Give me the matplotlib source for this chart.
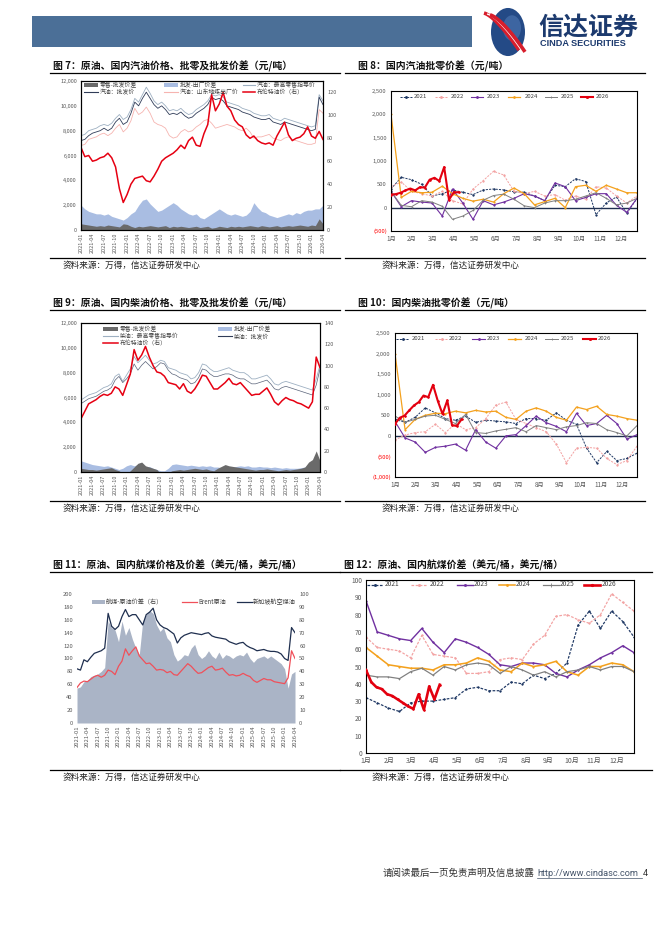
import numpy as np
import matplotlib
matplotlib.use('Agg')
import matplotlib.pyplot as plt
import matplotlib.patches as mpatches
from matplotlib.lines import Line2D

plt.rcParams['font.family'] = ['Noto Sans CJK SC', 'DejaVu Sans']
plt.rcParams['axes.unicode_minus'] = False

# ---------------- data ----------------
date_labels = ['2021-01', '2021-04', '2021-07', '2021-10', '2022-01', '2022-04', '2022-07', '2022-10',
               '2023-01', '2023-04', '2023-07', '2023-10', '2024-01', '2024-04', '2024-07', '2024-10',
               '2025-01', '2025-04', '2025-07', '2025-10', '2026-01', '2026-04']
month_labels = ['1月', '2月', '3月', '4月', '5月', '6月', '7月', '8月', '9月', '10月', '11月', '12月']
years = ['2021', '2022', '2023', '2024', '2025', '2026']

# fig 7: gasoline (monthly, 2021-01 .. 2026-04)
retail7 = [7600, 7700, 8000, 8100, 8200, 8400, 8500, 8400, 8600, 9000, 9300, 8900,
           9100, 9700, 10600, 10300, 10900, 11500, 11000, 10400, 10100, 10300, 10000, 9600,
           9700, 9600, 9800, 9500, 9300, 9400, 9700, 9900, 10100, 10400, 10900, 10800,
           10900, 10700, 10300, 10200, 10100, 10000, 9800, 9700, 9600, 9400, 9300, 9200,
           9200, 9300, 9000, 8900, 8800, 9000, 8900, 8800, 8700, 8600, 8500, 8400,
           8300, 8400, 10900, 10400]
whole7 = [7200, 7300, 7600, 7800, 7900, 8000, 8200, 8000, 8200, 8700, 9000, 8500,
          8700, 9400, 10300, 10000, 10600, 11100, 10600, 10100, 9800, 10000, 9700, 9300,
          9400, 9300, 9500, 9200, 9000, 9100, 9400, 9600, 9800, 10100, 10700, 10500,
          10600, 10400, 10000, 9900, 9800, 9700, 9500, 9400, 9300, 9100, 9000, 8900,
          8900, 9000, 8700, 8600, 8500, 8700, 8600, 8500, 8400, 8300, 8200, 8100,
          8000, 8100, 10700, 10100]
sd7 = [6800, 6900, 7300, 7400, 7500, 7700, 7800, 7600, 7800, 8200, 8500, 7900,
       8200, 8800, 9800, 9300, 9500, 9900, 9400, 8700, 8500, 8400, 8200, 7600,
       7400, 7500, 7900, 8100, 7900, 8000, 8300, 8500, 8800, 8900, 8600, 8200,
       8300, 8400, 8500, 8400, 8300, 8100, 8000, 8200, 7900, 7400, 7500, 7500,
       7600, 7700, 7400, 7300, 7200, 7400, 7500, 7300, 7200, 7100, 7000, 6900,
       6900, 7000, 9700, 9400]
bw7 = [2000, 1700, 1500, 1400, 1300, 1300, 1200, 1300, 1100, 1000, 900, 800,
       1000, 1300, 1500, 2000, 2400, 2500, 2100, 1800, 1500, 1600, 1800, 2000,
       2200, 2000, 1700, 1500, 1300, 1200, 1300, 1000, 900, 1100, 1300, 1500,
       1700, 1500, 1300, 1200, 1300, 1200, 1100, 1200, 1500, 2200, 1800, 1500,
       1400, 1200, 1100, 1000, 1100, 1200, 1300, 1200, 1400, 1300, 1500, 1600,
       1600, 1700, 1700, 2000]
rw7 = [500, 450, 400, 350, 300, 350, 300, 400, 350, 300, 250, 500,
       450, 300, 200, 300, 250, 300, 350, 300, 250, 300, 350, 200,
       300, 250, 300, 250, 200, 250, 300, 200, 250, 300, 150, 200,
       300, 250, 200, 300, 250, 300, 250, 300, 350, 300, 250, 350,
       300, 250, 300, 350, 250, 300, 350, 300, 350, 400, 350, 300,
       400, 350, 900, 500]
brent7 = [72, 64, 65, 60, 61, 63, 64, 67, 63, 55, 36, 24,
          31, 40, 45, 46, 47, 43, 42, 47, 53, 60, 63, 65,
          67, 70, 74, 71, 78, 81, 74, 73, 84, 92, 118, 104,
          110, 120, 108, 104, 96, 92, 90, 83, 80, 82, 78, 76,
          75, 76, 74, 82, 88, 94, 83, 78, 80, 81, 84, 90,
          82, 80, 86, 79]

# fig 9: diesel
retail9 = [5800, 6000, 6200, 6300, 6400, 6600, 6800, 6900, 7100, 7700, 7900, 7300,
           7800, 8300, 9300, 8800, 9100, 9400, 9000, 8700, 8800, 9000, 8900, 8400,
           8300, 8200, 8000, 7900, 7800, 7500, 7600, 8000, 8700, 8600, 8300, 8100,
           8100, 8200, 8300, 8400, 8200, 8100, 8000, 8000, 7800, 7500, 7500, 7600,
           7700, 7800, 7500, 7100, 7000, 7200, 7300, 7200, 7100, 7000, 6900, 6800,
           6700, 6600, 7500, 8600]
whole9 = [5500, 5700, 5900, 6000, 6100, 6300, 6500, 6600, 6800, 7400, 7700, 7200,
          7500, 7900, 8700, 8200, 8600, 8900, 8600, 8300, 8500, 8800, 8700, 8200,
          7900, 7800, 7600, 7500, 7400, 7100, 7200, 7600, 8300, 8200, 7900, 7700,
          7700, 7800, 7900, 7900, 7800, 7600, 7500, 7500, 7300, 7100, 7100, 7200,
          7300, 7400, 7100, 6700, 6600, 6800, 6900, 6800, 6700, 6600, 6500, 6400,
          6300, 6200, 7000, 8300]
bw9 = [900, 800, 700, 600, 550, 500, 450, 500, 400, 300, 200, 300,
       500, 600, 500, 600, 500, 400, 450, 300, 200, 100, 100, 300,
       600, 650, 600, 550, 500, 550, 500, 450, 500, 450, 500, 400,
       400, 350, 300, 300, 400, 450, 500, 450, 500, 400, 400, 450,
       400, 400, 350, 400, 350, 300, 350, 300, 300, 300, 350, 400,
       600, 750, 900, 800]
rw9 = [300, 250, 200, 200, 150, 200, 250, 300, 350, 200, 100, -100,
       -150, 100, 400, 700, 800, 500, 400, 300, 200, -150, -100, -50,
       100, 150, 200, 150, 200, 250, 300, 250, 200, 250, 150, 100,
       300, 450, 600, 500, 450, 400, 350, 300, 250, 200, 150, 200,
       200, 250, 200, 150, 100, 150, 200, 150, 200, 250, 300, 400,
       800, 1000, 1700, 900]
brent9 = [50, 57, 64, 66, 68, 71, 73, 72, 74, 80, 78, 72,
          82, 92, 115, 105, 110, 118, 108, 100, 94, 93, 90, 84,
          83, 82, 78, 83, 76, 74, 78, 84, 91, 90, 84, 78,
          78, 81, 84, 88, 83, 82, 84, 80, 76, 72, 73, 73,
          76, 79, 73, 66, 63, 67, 70, 68, 67, 65, 64, 62,
          60, 66, 108, 98]

# fig 11: jet fuel
jet11 = [84, 82, 98, 95, 102, 108, 110, 112, 116, 170, 150, 145,
         150, 165, 176, 165, 168, 168, 160, 152, 168, 172, 178, 160,
         152, 148, 146, 142, 138, 124, 132, 136, 138, 140, 139, 138,
         137, 139, 140, 135, 133, 132, 131, 130, 126, 124, 122, 124,
         125, 120, 117, 115, 112, 113, 114, 112, 111, 111, 110, 107,
         100, 97, 148, 140]
brent11 = [55, 62, 65, 64, 68, 72, 74, 71, 74, 82, 80, 75,
           88, 96, 115, 105, 112, 118, 104, 98, 92, 93, 88, 82,
           83, 82, 78, 80, 75, 74, 80, 86, 92, 88, 82, 77,
           78, 82, 86, 88, 82, 83, 85, 79, 74, 75, 73, 74,
           77, 74, 72, 66, 63, 66, 69, 67, 67, 64, 63, 62,
           61, 70, 112, 100]
spread11 = [27, 28, 32, 33, 36, 37, 38, 40, 43, 79, 74, 72,
            63, 79, 68, 74, 65, 58, 53, 79, 84, 87, 85, 76,
            71, 74, 66, 63, 53, 48, 50, 53, 52, 58, 61, 53,
            50, 52, 56, 52, 50, 55, 50, 53, 52, 50, 52, 53,
            52, 55, 50, 47, 50, 51, 52, 50, 52, 50, 48, 46,
            42, 27, 38, 40]

# fig 8: gasoline wholesale-retail spread by year (half-month steps), 2026 weekly
gas_year = {
    '2021': [400, 650, 600, 500, 250, 300, 380, 330, 280, 380, 400, 380, 340, 330, 250, 150, 480, 450, 620, 560, -150, 100, 230, -120, 200],
    '2022': [450, 550, 350, 300, 250, 350, 150, 80, 400, 580, 780, 700, 350, 300, 350, 250, 280, 160, 250, 180, 450, 420, 250, 100, 250],
    '2023': [350, 20, 150, 120, 100, -180, 400, 100, -250, 150, 60, 120, 200, 300, 250, 150, 530, 450, 150, 220, 300, 300, 50, -100, 200],
    '2024': [2000, 220, 350, 320, 330, 460, 300, 200, 140, 180, 120, 300, 420, 300, 60, 130, 200, 0, 450, 480, 350, 480, 400, 320, 320],
    '2025': [350, 50, 20, 150, 120, 30, -250, -180, -60, 160, 260, 290, 180, 40, 0, 100, 150, 150, 180, 250, 320, 200, 60, 100, 200],
    '2026': [280, 290, 320, 370, 410, 370, 440, 430, 600, 640, 570, 870, 170, 330, 330],
}
# fig 10: diesel
dsl_year = {
    '2021': [400, 330, 450, 680, 560, 420, 380, 480, 330, 380, 360, 340, 300, 420, 420, 380, 560, 380, 280, -300, -650, -380, -600, -550, -420],
    '2022': [-100, 20, 80, 100, 280, 80, 300, 150, 200, 420, 750, 820, 400, 300, 200, 100, -200, -650, -300, -280, -300, -550, -700, -600, -250],
    '2023': [350, -50, -150, -400, -280, -250, -200, -350, 150, -150, -300, 0, 30, 250, 480, 320, 230, 100, 550, 250, 300, 500, 300, -80, 30],
    '2024': [2000, 150, 400, 500, 550, 540, 600, 560, 620, 580, 600, 450, 400, 600, 680, 600, 450, 380, 700, 640, 720, 520, 480, 420, 380],
    '2025': [480, 330, 400, 480, 500, 400, 300, 520, 80, 60, 120, 160, 200, 100, 250, 200, 150, 220, 250, 320, 300, 150, 80, 0, 250],
    '2026': [290, 440, 490, 620, 740, 820, 980, 940, 1240, 850, 530, 860, 260, 240, 400],
}
# fig 12: jet fuel spread
jet_year = {
    '2021': [32, 29, 26, 24, 29, 30, 30, 31, 32, 37, 38, 36, 36, 41, 40, 45, 43, 46, 52, 74, 82, 72, 82, 76, 67],
    '2022': [67, 61, 60, 59, 55, 68, 57, 56, 55, 46, 46, 47, 54, 55, 54, 63, 68, 79, 80, 77, 75, 80, 92, 87, 82],
    '2023': [88, 70, 68, 66, 65, 72, 64, 58, 66, 64, 61, 57, 51, 50, 52, 52, 51, 46, 44, 48, 51, 55, 58, 62, 58],
    '2024': [61, 56, 51, 50, 49, 49, 48, 51, 51, 52, 55, 53, 48, 47, 52, 50, 51, 53, 47, 45, 50, 50, 52, 51, 47],
    '2025': [45, 44, 44, 43, 47, 49, 45, 50, 48, 51, 52, 51, 46, 50, 48, 45, 47, 44, 47, 48, 50, 48, 50, 50, 47],
    '2026': [48, 41, 38, 37, 34, 33, 31, 29, 27, 25.5, 34, 25, 38.5, 31, 39.5],
}

# ---------------- layout helpers ----------------
W, H = 662, 936
fig = plt.figure(figsize=(W / 100, H / 100), dpi=100)
GRAY = '#595959'


def box(x0, y0, x1, y1):
    return fig.add_axes([x0 / W, 1 - y1 / H, (x1 - x0) / W, (y1 - y0) / H])


def ftext(x, y, s, **kw):
    kw.setdefault('va', 'center')
    return fig.text(x / W, 1 - y / H, s, **kw)


def hline(x0, x1, y, lw=0.8, color='black'):
    fig.add_artist(Line2D([x0 / W, x1 / W], [1 - y / H, 1 - y / H], lw=lw, color=color))


def leg_line(x0, x1, y, label, tx, fs, color, lw=0.8, ls='-', marker=None, ms=1.5):
    fig.add_artist(Line2D([x0 / W, x1 / W], [1 - y / H] * 2, color=color, lw=lw, ls=ls))
    if marker:
        fig.add_artist(Line2D([(x0 + x1) / 2 / W], [1 - y / H], color=color, marker=marker,
                              ms=ms, mew=0.6, ls='none'))
    ftext(tx, y, label, fontsize=fs, color='#404040')


def leg_patch(x0, x1, y, label, tx, fs, color):
    fig.add_artist(mpatches.Rectangle((x0 / W, 1 - (y + 2.2) / H), (x1 - x0) / W, 4.4 / H,
                                      color=color, lw=0))
    ftext(tx, y, label, fontsize=fs, color='#404040')


def title(x, y, s, x0, x1):
    ftext(x, y, s, fontsize=7.1, fontweight='bold', color='#111111')
    hline(x0, x1, y + 7, lw=0.9)


def source(x, y, x0, x1):
    hline(x0, x1, y - 7, lw=0.9)
    ftext(x, y, '资料来源：万得，信达证券研发中心', fontsize=6.2, color='#222222')


def frame(ax, on=True):
    for s in ax.spines.values():
        s.set_visible(on)
        s.set_color('black')
        s.set_linewidth(0.8)


def fmt_num(v):
    return f'({abs(v):,.0f})' if v < 0 else f'{v:,.0f}'


def ts_axis(ax, fs=4):
    ax.set_xlim(0, 63)
    ax.set_xticks(np.arange(0, 64, 3))
    ax.set_xticklabels(date_labels, rotation=90, fontsize=fs, color=GRAY)
    ax.tick_params(axis='x', length=0, pad=2)


def year_chart(ax, data, ylim, step, fs, lw_scale=1.0):
    styles = {
        '2021': dict(color='#1f3864', ls=(0, (2.2, 1.2)), lw=0.7, marker='o', ms=1.1),
        '2022': dict(color='#f3a3a3', ls=(0, (2.2, 1.2)), lw=0.7, marker='o', ms=1.1),
        '2023': dict(color='#7030a0', ls='-', lw=0.8, marker='o', ms=1.1),
        '2024': dict(color='#f4a11d', ls='-', lw=0.9, marker='o', ms=1.0),
        '2025': dict(color='#7f7f7f', ls='-', lw=0.7, marker='+', ms=1.8),
        '2026': dict(color='#e3000f', ls='-', lw=1.5, marker='o', ms=1.3),
    }
    for y in years:
        vals = data[y]
        if y == '2026':
            xs = np.arange(len(vals)) * 12 / 52
        else:
            xs = np.linspace(0, 11.75, len(vals))
        st = dict(styles[y])
        st['lw'] = st['lw'] * lw_scale
        ax.plot(xs, vals, mew=0.5, zorder=3 if y == '2026' else 2, **st)
    ax.set_xlim(0, 11.75)
    ax.set_ylim(*ylim)
    ax.set_xticks(range(12))
    ax.set_xticklabels(month_labels, fontsize=fs, color=GRAY)
    ticks = np.arange(ylim[0], ylim[1] + 1, step)
    ax.set_yticks(ticks)
    labs = ax.set_yticklabels([fmt_num(t) for t in ticks], fontsize=fs - 0.3)
    for t, l in zip(ticks, labs):
        l.set_color('#ff0000' if t < 0 else GRAY)
    ax.tick_params(length=0, pad=3)
    frame(ax)
    return styles


# ---------------- header ----------------
fig.add_artist(mpatches.Rectangle((32 / W, 1 - 47 / H), (472 - 32) / W, 31 / H, color='#4b6f97', lw=0))
fig.add_artist(mpatches.Circle((508 / W, 1 - 32 / H), 17 / W, color='#244a86', lw=0))
fig.add_artist(mpatches.Circle((512 / W, 1 - 28 / H), 9 / W, color='#4f78b4', lw=0, alpha=0.6))
t = np.linspace(0, 1, 30)
for off, c, lw in [(-3, '#d81e2c', 2.6), (0, 'white', 1.0), (3, '#d81e2c', 2.6)]:
    xs = 487 + off + 35 * t
    ys = 14 + 37 * t ** 1.4 + off * 0.3
    fig.add_artist(Line2D(xs / W, 1 - ys / H, color=c, lw=lw, solid_capstyle='butt'))
ftext(538, 28, '信达证券', fontsize=18, fontweight='bold', color='#1c3a6e')
ftext(540, 44, 'CINDA SECURITIES', fontsize=6.6, fontweight='bold', color='#1c3a6e',
      family=['Liberation Sans', 'DejaVu Sans'])

# ---------------- figure 7 ----------------
title(53, 66, '图 7：原油、国内汽油价格、批零及批发价差（元/吨）', 50, 340)
x = np.arange(64)
ax7 = box(81, 81, 323, 230)
ax7.fill_between(x, 0, bw7, color='#a9bde2', lw=0)
ax7.fill_between(x, 0, rw7, color='#6a6a6a', lw=0)
ax7.plot(x, retail7, color='#9eb0c2', lw=0.6)
ax7.plot(x, whole7, color='#303c58', lw=0.6)
ax7.plot(x, sd7, color='#f6b4b0', lw=0.6)
ax7.set_ylim(0, 12000)
ax7.set_yticks(range(0, 12001, 2000))
ax7.set_yticklabels([fmt_num(v) for v in range(0, 12001, 2000)], fontsize=4, color=GRAY)
ax7.tick_params(axis='y', length=0, pad=3)
ts_axis(ax7)
ax7r = ax7.twinx()
ax7r.plot(x, brent7, color='#e60012', lw=1.1)
ax7r.set_ylim(0, 130)
ax7r.set_yticks(range(0, 121, 20))
ax7r.tick_params(axis='y', labelsize=4, colors=GRAY, length=0, pad=3)
frame(ax7)
frame(ax7r)
leg_patch(84, 98, 85, '零售-批发价差', 100, 4.2, '#6a6a6a')
leg_patch(164, 178, 85, '批发-出厂价差', 180, 4.2, '#a9bde2')
leg_line(243, 255, 85, '汽油：最高零售指导价', 257, 4.2, '#9eb0c2')
leg_line(84, 98, 92, '汽油：批发价', 100, 4.2, '#303c58')
leg_line(164, 178, 92, '汽油：山东地炼出厂价', 180, 4.2, '#f6b4b0')
leg_line(243, 255, 92, '布伦特油价（右）', 257, 4.2, '#e60012', lw=1.1)
source(63, 265, 50, 340)

# ---------------- figure 8 ----------------
title(358, 66, '图 8：国内汽油批零价差（元/吨）', 345, 645)
ax8 = box(391, 91, 637, 231)
ax8.axhline(0, color='#1f2f4f', lw=1.0, zorder=1)
st = year_chart(ax8, gas_year, (-500, 2500), 500, 4.5)
for (hx, tx), y in zip([(400, 414), (435, 451), (471, 487), (508, 525), (545, 561), (581, 596)], years):
    s = st[y]
    leg_line(hx, hx + 12, 97, y, tx, 4.3, s['color'], lw=s['lw'], ls=s['ls'], marker=s['marker'], ms=s['ms'] + 0.3)
source(382, 265, 345, 645)

# ---------------- figure 9 ----------------
title(53, 303, '图 9：原油、国内柴油价格、批零及批发价差（元/吨）', 50, 340)
ax9 = box(81, 323, 320, 472)
ax9.fill_between(x, 0, bw9, color='#a9bde2', lw=0)
ax9.fill_between(x, 0, rw9, color='#6a6a6a', lw=0)
ax9.plot(x, retail9, color='#9eb0c2', lw=0.6)
ax9.plot(x, whole9, color='#303c58', lw=0.5, alpha=0.8)
ax9.set_ylim(0, 12000)
ax9.set_yticks(range(0, 12001, 2000))
ax9.set_yticklabels([fmt_num(v) for v in range(0, 12001, 2000)], fontsize=4, color=GRAY)
ax9.tick_params(axis='y', length=0, pad=3)
ts_axis(ax9)
ax9r = ax9.twinx()
ax9r.plot(x, brent9, color='#e60012', lw=1.1)
ax9r.set_ylim(0, 140)
ax9r.set_yticks(range(0, 141, 20))
ax9r.tick_params(axis='y', labelsize=4, colors=GRAY, length=0, pad=3)
frame(ax9)
frame(ax9r)
leg_patch(103, 118, 329, '零售-批发价差', 120, 4.2, '#6a6a6a')
leg_patch(218, 232, 329, '批发-出厂价差', 234, 4.2, '#a9bde2')
leg_line(103, 118, 336, '柴油：最高零售指导价', 120, 4.2, '#9eb0c2')
leg_line(218, 232, 336, '柴油：批发价', 234, 4.2, '#303c58')
leg_line(103, 118, 343, '布伦特油价（右）', 120, 4.2, '#e60012', lw=1.1)
source(63, 508, 50, 340)

# ---------------- figure 10 ----------------
title(358, 303, '图 10：国内柴油批零价差（元/吨）', 345, 645)
ax10 = box(395, 333, 637, 477)
ax10.axhline(0, color='#1f2f4f', lw=1.0, zorder=1)
st = year_chart(ax10, dsl_year, (-1000, 2500), 500, 4.5)
for (hx, tx), y in zip([(396, 412), (435, 449), (472, 487), (508, 525), (545, 561), (583, 598)], years):
    s = st[y]
    leg_line(hx, hx + 13, 339, y, tx, 4.3, s['color'], lw=s['lw'], ls=s['ls'], marker=s['marker'], ms=s['ms'] + 0.3)
source(382, 508, 345, 645)

# ---------------- figure 11 ----------------
title(53, 565, '图 11：原油、国内航煤价格及价差（美元/桶，美元/桶）', 50, 340)
ax11 = box(77, 594, 295, 723)
ax11r = ax11.twinx()
ax11r.fill_between(x, 0, spread11, color='#aab4c6', lw=0)
ax11r.set_ylim(0, 100)
ax11r.set_yticks(range(0, 101, 10))
ax11r.tick_params(axis='y', labelsize=4.2, colors=GRAY, length=0, pad=3)
ax11.plot(x, brent11, color='#f0505a', lw=0.9)
ax11.plot(x, jet11, color='#1f2f4f', lw=0.9)
ax11.set_ylim(0, 200)
ax11.set_yticks(range(0, 201, 20))
ax11.tick_params(axis='y', labelsize=4.2, colors=GRAY, length=0, pad=3)
ts_axis(ax11, fs=4.2)
ax11.set_zorder(ax11r.get_zorder() + 1)
ax11.patch.set_visible(False)
frame(ax11, False)
frame(ax11r, False)
leg_patch(92, 105, 602, '航煤-原油价差（右）', 106, 4.4, '#aab4c6')
leg_line(182, 197, 602, 'Brent原油', 198, 4.4, '#f0505a', lw=0.9)
leg_line(237, 252, 602, '新加坡航空煤油', 253, 4.4, '#1f2f4f', lw=0.9)
source(63, 777, 50, 340)

# ---------------- figure 12 ----------------
title(344, 565, '图 12：原油、国内航煤价差（美元/桶，美元/桶）', 340, 652)
ax12 = box(366, 580, 634, 753)
st = year_chart(ax12, jet_year, (0, 100), 10, 5.0, lw_scale=1.25)
for (hx, tx), y in zip([(367, 385), (411, 430), (457, 474), (499, 516), (543, 560), (584, 602)], years):
    s = st[y]
    leg_line(hx, hx + 16, 584.5, y, tx, 4.8, s['color'], lw=s['lw'] * 1.25, ls=s['ls'], marker=s['marker'], ms=s['ms'] + 0.4)
source(372, 777, 340, 652)

# ---------------- footer ----------------
ftext(535, 873, '请阅读最后一页免责声明及信息披露', fontsize=6.8, color='#333333', ha='right')
ftext(537, 873, 'http://www.cindasc.com', fontsize=6.6, color='#44546a', ha='left',
      family=['Roboto', 'DejaVu Sans'])
hline(537, 642, 878, lw=0.5, color='#44546a')
ftext(642.5, 873, '4', fontsize=6.6, color='#333333', ha='left', family=['Roboto', 'DejaVu Sans'])

fig.savefig('out.png', dpi=100)
